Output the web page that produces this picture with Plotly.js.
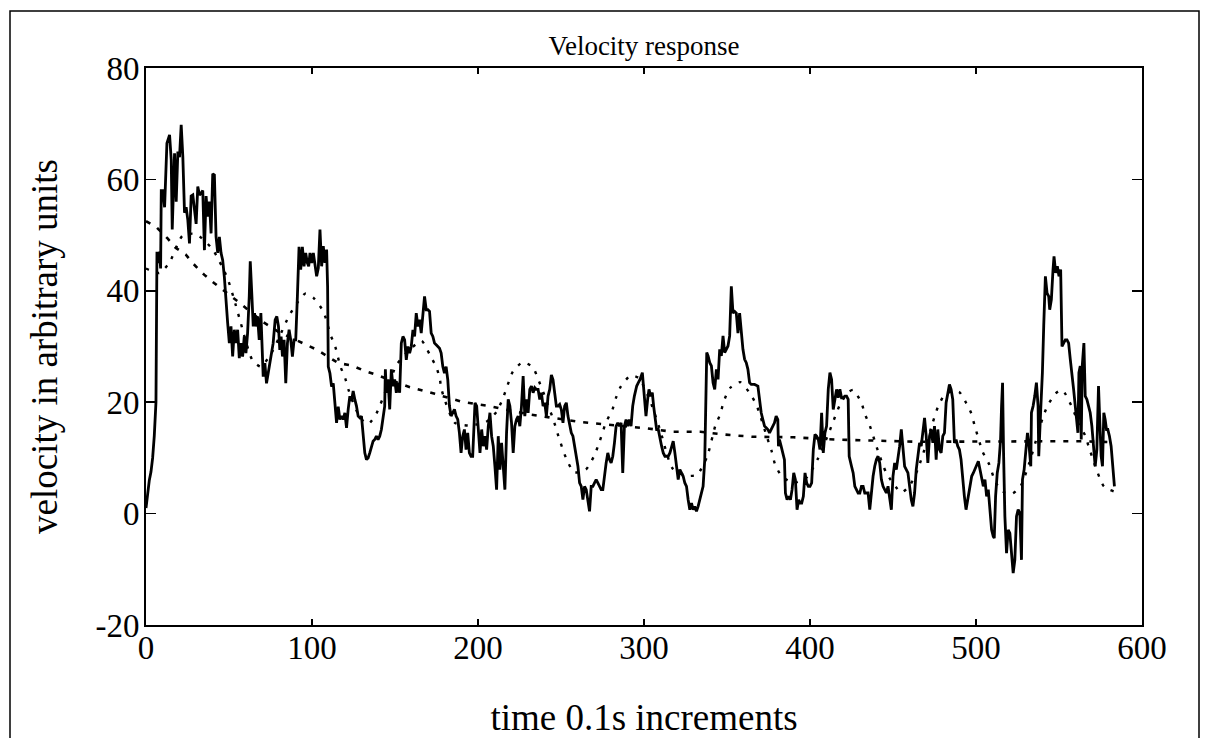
<!DOCTYPE html>
<html>
<head>
<meta charset="utf-8">
<script src="https://cdn.plot.ly/plotly-3.0.1.min.js"></script>
<style>
html,body{margin:0;padding:0;background:#fff;overflow:hidden;}
#chart{width:1211px;height:738px;}
</style>
</head>
<body>
<div id="chart"></div>
<script>
const velocityMeasured = [
[0,1],[1,4],[2,6],[3,7.5],[4,10],[5,14],[6,20],[6.6,47],[7.2,45],[8.2,47],[8.8,44],[9.2,58],[10.2,58],[11.2,55],[12.6,66.5],[14.2,68],[15.2,63.5],[15.8,51],[17.2,64.7],[18.2,56],[19.2,65],[20.2,64],[21.2,69.8],[22.2,64],[23.2,54],[24.2,55],[25.2,52.7],[26.2,48.5],[27.2,57],[28.2,57.2],[30.2,52],[31.2,58.7],[32.2,57.2],[33.2,57.5],[34.2,58],[35.2,47.3],[36.2,57],[37.2,53.3],[38.2,56],[39.2,50.3],[40.2,61],[41.2,60.8],[42.2,49.7],[43.2,46.8],[44.2,49.7],[45.2,46.8],[46.2,45.5],[47.2,42.5],[48.2,37.8],[49.2,34.2],[50.2,30.6],[51.2,33.6],[52.2,28.2],[53.2,33],[54.2,30.6],[55.2,33],[56.2,27.9],[57.2,30.6],[58.2,28.2],[59.2,31.8],[60.2,28.8],[61.2,32.4],[62.2,39],[62.8,45.3],[63.8,39],[64.6,33.6],[65.4,36],[66.2,33.6],[67.2,35.4],[68.2,31.2],[69.2,36],[69.8,30.6],[70.6,24.6],[71.6,27],[72.6,23.4],[73.6,25.2],[74.6,27],[75.6,28.2],[76.6,30.6],[77.8,34.8],[78.8,35.4],[79.8,33.6],[80.6,29.4],[81.4,31.8],[82.2,28.2],[83.2,31.2],[84.2,23.4],[85.2,30.6],[86.2,33],[87.2,31.2],[88.2,28.2],[89.2,31.2],[90.2,31.2],[91.2,39],[92.2,47.9],[93.2,43.8],[94.2,47.9],[95.2,44.4],[96.2,46.8],[97.2,45],
[98,44.4],[98.8,46.8],[99.8,45],[100.8,46.8],[101.8,44.4],[102.8,42.6],[103.8,44.1],[104.8,51],[105.8,44.4],[106.8,48],[107.8,45],[108.8,47.4],[109.4,40.8],[109.8,26.4],[110.8,25.2],[111.8,22.8],[112.8,23.4],[113.8,20.4],[114.8,16.3],[115.8,19.2],[116.8,16.9],[117.8,17.5],[118.8,16.9],[119.8,18.1],[120.8,15.4],[121.8,18.7],[122.8,21.1],[123.8,20.2],[124.8,22],[125.8,20.5],[126.8,19.3],[127.8,17.5],[128.8,17.2],[129.8,17.5],[130.8,13.9],[131.8,10.9],[132.8,9.7],[133.8,10],[134.8,10.9],[135.8,12.1],[136.8,13],[137.8,13.3],[138.8,13.9],[139.8,13.3],[140.8,13.9],[141.8,15.1],[142.8,16.9],[143.8,19.3],[144.2,25.9],[144.8,21.7],[145.8,24.1],[146.8,18.7],[147.8,25.9],[148.8,22.9],[149.8,24.1],[150.8,21.7],[151.8,23.5],[152.8,21.7],[153.8,30.6],[154.8,31.8],[155.8,31.2],[156.8,27.6],[157.8,30],[158.8,28.8],[159.8,30],[160.8,33],[161.8,31.8],[162.8,36],[163.8,33.6],[164.8,34.8],[165.8,32.4],[166.8,36.6],[167.8,39],[168.8,36.6],[169.8,36.6],[170.8,36.3],[171.8,32.4],[172.8,31.8],[173.8,30.6],[174.8,30.3],[175.8,30],[176.8,29.7],[177.8,28.8],[178.8,26.4],[179.8,25.2],[180.8,26.4],[181.8,24],[182.8,19.3],[183.8,17.5],[184.8,18.1],[185.8,18.7],[186.8,17.5],[187.8,16.9],[188.8,14.5],[189.8,10.9],[190.8,13.9],[191.8,15.1],[192.8,11.5],[193.8,14.5],[194.8,10.9],[195.8,10.3],[196.8,10.3],
[198.2,19.9],[199.2,19.3],[200.2,14.5],[201.2,10.9],[202.2,15.1],[203.2,12.1],[204.2,13.9],[205.2,11.5],[206.2,15.7],[207.2,18.1],[208.2,13.9],[209.2,12.1],[210.2,8.5],[211.2,4.3],[212.2,13.9],[213.2,7.9],[214.2,12.7],[215.2,8.5],[216.2,4.3],[217.2,14.5],[218.2,20.5],[219.2,19.3],[220.2,16.3],[221.2,10.9],[222.2,15.7],[223.2,16.9],[224.2,17.5],[225.2,15.7],[226.2,19.3],[227.2,24.7],[228.2,17.5],[229.2,20.5],[230.2,18.1],[231.2,22.3],[232.2,22.9],[233.2,21.7],[234.2,22.6],[235.2,22.3],[236.2,22.3],[237.2,20.5],[238.2,21.7],[239.2,19.3],[240.2,19.9],[241.2,17.5],[242.2,21.1],[243.2,22.3],[244.2,24.9],[245.2,24],[246.2,21.1],[247.2,19.3],[248.2,19.3],[249.2,19.6],[250.2,18.7],[251.2,16.3],[252.2,19.3],[253.2,19.9],[254.2,17.5],[255.2,15.7],[256.2,14.5],[257.2,13.9],[258.2,12.1],[259.2,10.9],[260.2,8.5],[261.2,5.5],[262.2,4.9],[263.2,2.5],[264.2,4.9],[265.2,4.3],[266.2,2.5],[267.2,0.4],[268.2,4.9],[269.2,4.9],[270.2,5.5],[271.2,6.1],[272.2,5.5],[273.2,4.9],[274.2,4.3],[275.2,4.3],[276.2,7.3],[277.2,9.1],[278.2,10.9],[279.2,9.7],[280.2,9.1],[281.2,10.3],[282.2,12.7],[283.2,15.7],[284.2,16.3],[285.2,15.7],[286.2,16.3],[287.2,7.3],[288.2,15.7],[289.2,16.9],[290.2,15.7],[291.2,16.9],[292.2,15.7],[293.2,19.3],[294.2,21.1],
[295.6,22.9],[296.6,23.5],[297.6,24.1],[299,25.3],[300.2,21.7],[301.2,17.5],[302.2,20.5],[303,22.3],[304,21.1],[305,21.7],[305.8,19.3],[306.6,17.5],[307.6,15.1],[308.6,15.1],[309.6,13.3],[310.6,12.1],[311.6,10.9],[312.6,10.3],[313.6,10.3],[314.6,10.3],[315.6,10.9],[316.6,12.1],[317.6,13],[318.6,10.9],[319.6,8.5],[320.6,6.1],[321.6,7.9],[322.6,7.3],[323.6,6.7],[324.6,5.5],[325.6,4.9],[326.6,2.5],[327.6,0.7],[328.6,1.9],[329.6,0.7],[330.6,1.3],[331.6,0.4],[332.6,1.3],[333.6,2.5],[334.6,3.7],[335.6,4.9],[336.6,9.7],[337.2,18.7],[337.8,28.9],[338.6,28.3],[339.6,27.1],[340.6,26.5],[341.6,23.5],[342.6,22.3],[343.6,25.9],[344.6,24.1],[345.6,29.5],[346.6,28.3],[347.6,31.9],[348.6,28.9],[349.6,29.5],[350.6,30.1],[351.6,31.9],[352.6,40.8],[353.6,36],[354.6,36.3],[355.6,36],[356.6,32.4],[357.6,36],[358.6,32.4],[359.6,29.5],[360.6,27.7],[361.6,27.1],[362.6,25.9],[363.6,23.5],[364.6,23.2],[366.6,23.2],[368.6,22.9],[369.6,20.5],[370.6,18.1],[371.6,16.9],[372.6,15.7],[373.6,15.4],[374.6,15.1],[375.6,14.5],[376.6,15.1],[377.6,15.7],[378.6,16.3],[379.6,17.5],[380.6,16.9],[381,12.1],[381.6,13.3],[382.6,12.1],[383.6,10.9],[384.6,9.7],[385.2,3.7],[386.2,2.5],[387.2,3.1],[388.2,2.5],[389.2,4.3],[390.2,7.3],[391.2,6.1],[392.2,0.7],[393.2,2.5],
[394,1.9],[395,1.9],[396,3.1],[397,7.3],[398,5.5],[399,4.9],[400,4.9],[401,5.5],[402,11.5],[403,14.2],[404,13.9],[405,13.3],[406,11.5],[407,18.1],[408,10.9],[409,14.5],[410,15.7],[411,22.3],[412,25.3],[413,24.1],[414,18.7],[415,20.5],[416,22.3],[417,20.8],[418,22.3],[419,20.8],[420,20.8],[421,21.1],[422,21.1],[423,20.5],[423.6,10.3],[425,8.5],[426,7.3],[427,4.9],[428,4.3],[429,3.7],[430,3.7],[431,4.9],[432,4.9],[433,3.7],[434,3.7],[435,3.7],[436,0.7],[437,4.3],[438,6.7],[439,8.5],[440,9.7],[441,10.3],[442,9.1],[443,6.1],[444,4.9],[445,4.3],[446,3.7],[447,4.9],[448,2.5],[449,0.7],[450,6.7],[451,9.1],[452,7.9],[453,9.7],[454,12.1],[455,15.1],[456,11.5],[457,8.5],[458,7.9],[459,7.3],[460,4.9],[461,2.5],[462,1.3],[463,3.7],[464,7.9],[465,10.9],[466,12.7],[467,12.1],[468,14.5],[469,17.2],[470,13.9],[471,9.1],[472,13.9],[473,15.1],[474,12.7],[475,15.7],[476,9.7],[477,15.1],[478,11.5],[479,10.9],[480,13.9],[481,14.5],[482,19.9],[483,21.7],[484,23.2],[485,22.3],[486,20.5],[487,12.7],[488,13.3],[489,12.1],[490,11.5],[491,9.7],[492,6.1],[493,3.1],[494,0.7],[495,2.5],[496,4.9],
[497.4,6.7],[498.4,7.3],[499.4,7.9],[500.4,8.5],[501.4,9.4],[502.4,7.9],[503.4,6.1],[504.4,4.9],[505.4,6.1],[506.4,3.1],[507.4,4.3],[508.4,0.1],[509.4,-2.9],[510.4,-4.1],[511,-4.4],[511.8,3.1],[512.8,7.3],[513.8,9.1],[514.8,13.3],[515.4,19.3],[516,23.5],[516.6,10.9],[517.4,-0.5],[518.4,-7.1],[519.4,-2.9],[520.4,-3.5],[521.4,-6.5],[522.4,-10.7],[523.4,-8.3],[524.4,-0.5],[525.4,0.7],[526.4,0.1],[527.4,-8.3],[528,6.1],[529,7.9],[530,12.1],[531,14.5],[532,12.1],[533,8.5],[533.4,18.1],[534.4,19.3],[535.4,21.1],[536.4,23.5],[537.4,19.3],[537.8,10.3],[539,18.7],[540,25.3],[540.8,33.7],[541.8,42.6],[542.8,39.6],[543.8,39],[544.4,36.6],[545.4,38.4],[546.4,43.8],[547,46.2],[548,43.2],[549,44.4],[550,42.6],[551,43.8],[551.8,30],[552.8,30.6],[553.8,31.2],[554.8,31.2],[555.8,30.6],[556.8,27.7],[557.8,25.3],[558.8,22.3],[559.8,19.3],[560.8,15.7],[561.4,14.5],[562,25.3],[562.8,26.5],[563.4,13.3],[564,26.5],[565,30.6],[565.8,21.1],[566.8,20.5],[567.8,19.3],[568.8,18.1],[569.8,15.7],[570.8,12.7],[571.8,8.5],[572.8,11.5],[573.8,22.9],[574.6,16.3],[575.4,10.3],[576.2,8.5],[577,18.1],[577.8,16.9],[578.6,15.1],[579.4,15.1],[580.4,13.9],[581.4,12.1],[582.4,7.9],[583.4,4.9]
];

// Slowly decaying mean (dashed)
const meanTime = [0,6,13,18,24,28,35,41,54,60,70,80,96,103,116,124,131,138,159,167,174,190,207,216,224,231,263,270,278,302,317,334,348,365,390,415,464,500,546,564,583];
const meanValue = [52.5,51.5,49.4,47.7,46.5,45,42.9,41.4,38.4,36.9,34.5,32.6,30.4,29.4,27,26.6,25.7,25,22.7,22.1,21.5,20.1,19.3,18.7,18.2,17.8,16.4,16.2,16,15.3,14.7,14.7,14.2,13.8,13.7,13.3,12.9,12.9,12.9,13,12.8];

// Smoothed response (dotted)
const smoothTime = [0,8,14,22,30,40,49,54,57,64,69,75,80,86,91,96,101,107,111,114,117,120,122,129,134,139,145,151,157,166,171,175,177,178,186,195,205,211,215,218,221,227,233,236,241,246,248,253,258,265,270,273,277,281,283,286,292,297,304,310,317,325,332,338,343,346,348,352,358,364,368,374,377,379,383,390,398,405,412,418,423,426,431,433,436,441,446,455,460,465,470,474,477,481,486,490,494,497,499,504,508,512,517,522,527,532,537,540,543,548,552,558,562,566,568,577,583];
const smoothValue = [44,43.2,45,49.9,50.2,47.5,42.3,37.5,34.3,27.6,26.4,28.5,31.5,35.4,37.8,39.5,38.7,36.2,32.2,30,26.5,24.3,22.2,17.2,16.1,18.1,22.5,26.7,28.9,31,28.5,26.2,24.2,22.3,16.3,15.8,16.5,18.2,20.7,23.2,25.5,27.2,26.3,24.3,20.5,16.3,14.3,10,7.4,7.9,10.4,12.7,16.3,18.7,20.7,22.8,24.8,24.3,20,14.7,8.2,6.8,7,10.2,15.8,17.9,20.1,22.6,23.6,21.5,19.3,13.8,11.1,8.8,6.7,5.5,6.5,10,15,19.5,21.8,22.2,19.9,17.9,15.8,11.2,7.3,3.8,5,8,12.5,16.4,19.1,21.3,22,21.8,19.9,18.1,16,11.1,8.8,5.5,3.8,3.6,5,9,14,17,19.3,21.6,22.2,19,16,13.9,11.9,4.9,4];

const xTickVals = [0,100,200,300,400,500,600];
const xTickText = ['0','100','200','300','400','500','600'];
const yTickVals = [-20,0,20,40,60,80];
const yTickText = ['-20','0','20','40','60','80'];

const serif = 'Liberation Serif, Times New Roman, serif';

const traces = [
  {x: meanTime, y: meanValue, type:'scatter', mode:'lines',
   line:{color:'#000', width:2.6, dash:'5px,8px'}, hoverinfo:'skip'},
  {x: smoothTime, y: smoothValue, type:'scatter', mode:'lines',
   line:{color:'#000', width:2.4, dash:'3px,8px', shape:'spline', smoothing:0.6}, hoverinfo:'skip'},
  {x: velocityMeasured.map(p=>p[0]), y: velocityMeasured.map(p=>p[1]), type:'scatter', mode:'lines',
   line:{color:'#000', width:2.8}, hoverinfo:'skip'}
];

const W = 1211, H = 738, L = 146, R = 69, T = 68, B = 113;
const pw = W - L - R, ph = H - T - B;

const layout = {
  width: W, height: H,
  margin: {l: L, r: R, t: T, b: B, pad: 0},
  paper_bgcolor: '#fff', plot_bgcolor: '#fff',
  showlegend: false,
  font: {family: serif, color: '#000', size: 33},
  title: {text: 'Velocity response', font: {family: serif, size: 27, color: '#000'},
          x: 0.5, xref: 'paper', xanchor: 'center', y: 1 - 46/H, yref: 'container', yanchor: 'middle'},
  xaxis: {
    range: [0, 600], tickvals: xTickVals, ticktext: xTickText,
    ticks: 'inside', ticklen: 6, tickwidth: 1.5, tickcolor: '#000',
    showline: true, linecolor: '#000', linewidth: 1.8, mirror: 'ticks',
    showgrid: false, zeroline: false, ticklabelstandoff: -7,
    tickfont: {family: serif, size: 33, color: '#000'},
    title: {text: 'time 0.1s increments', font: {family: serif, size: 37, color: '#000'}, standoff: 39},
    automargin: false
  },
  yaxis: {
    range: [-20, 80], tickvals: yTickVals, ticktext: yTickText,
    ticks: 'inside', ticklen: 10, tickwidth: 1.5, tickcolor: '#000',
    showline: true, linecolor: '#000', linewidth: 1.8, mirror: 'ticks',
    showgrid: false, zeroline: false, ticklabelstandoff: -2,
    tickfont: {family: serif, size: 33, color: '#000'},
    title: {text: 'velocity in arbitrary units', font: {family: serif, size: 37, color: '#000'}, standoff: 27},
    automargin: false
  },
  shapes: [{
    type: 'rect', xref: 'paper', yref: 'paper', layer: 'above',
    x0: (10 - L)/pw, x1: (1199 - L)/pw,
    y0: (H - B - 760)/ph, y1: (H - B - 11)/ph,
    line: {color: '#000', width: 1.5}, fillcolor: 'rgba(0,0,0,0)'
  }]
};

Plotly.newPlot('chart', traces, layout, {displayModeBar: false, staticPlot: true});
</script>
</body>
</html>
